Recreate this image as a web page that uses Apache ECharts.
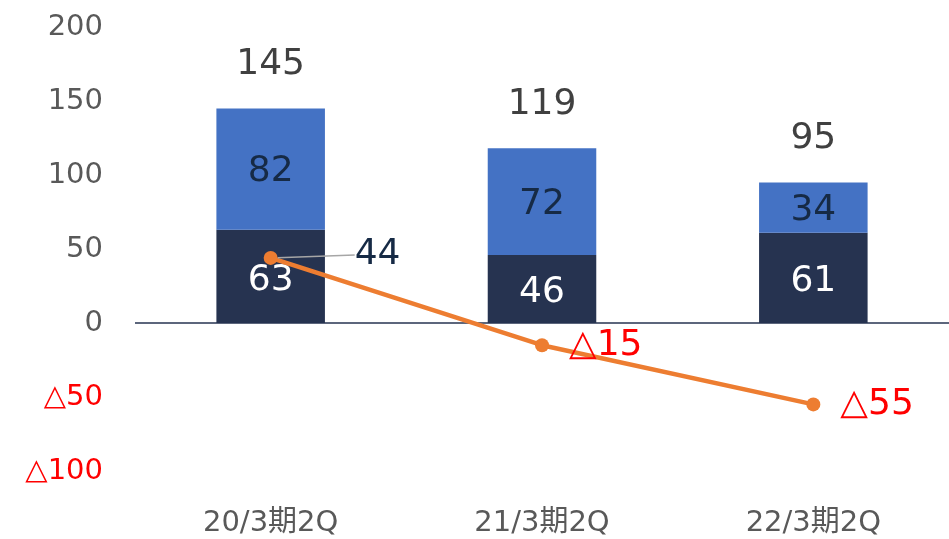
<!DOCTYPE html>
<html>
<head>
<meta charset="utf-8">
<script src="https://cdn.jsdelivr.net/npm/echarts@6/dist/echarts.min.js"></script>
<style>
  html, body { margin: 0; padding: 0; background: #fff; }
  #chart { width: 949px; height: 539px; }
</style>
</head>
<body>
<div id="chart"></div>
<script>
const categories = ['20/3期2Q', '21/3期2Q', '22/3期2Q']
const baseValues = [63, 46, 61]
const upperValues = [82, 72, 34]
const totals = [145, 119, 95]
const lineValues = [44, -15, -55]

const FONT = '"DejaVu Sans", Verdana, "Noto Sans CJK JP", sans-serif'

const fmt = (v) => (v < 0 ? '△' + Math.abs(v) : String(v))

const chart = echarts.init(document.getElementById('chart'))
chart.setOption({
  animation: false,
  grid: { left: 135, width: 818, top: 27, bottom: 68 },
  xAxis: {
    type: 'category',
    data: categories,
    position: 'bottom',
    axisLine: { show: false },
    axisTick: { show: false },
    axisLabel: {
      color: '#595959',
      fontSize: 29,
      fontFamily: FONT,
      margin: 38,
    },
  },
  yAxis: {
    type: 'value',
    min: -100,
    max: 200,
    interval: 50,
    splitLine: { show: false },
    axisLine: { show: false },
    axisTick: { show: false },
    axisLabel: {
      margin: 32,
      formatter: (v) => (v < 0 ? '{neg|' + fmt(v) + '}' : '{pos|' + v + '}'),
      rich: {
        pos: { color: '#595959', fontSize: 29, fontFamily: FONT },
        neg: { color: '#ff0000', fontSize: 29, fontFamily: FONT },
      },
    },
  },
  series: [
    {
      type: 'bar',
      stack: 'total',
      data: baseValues,
      barWidth: '40%',
      itemStyle: { color: '#263350' },
      label: {
        show: true,
        position: 'inside',
        color: '#ffffff',
        fontSize: 36,
        fontFamily: FONT,
        offset: [0, 4],
      },
      markLine: {
        silent: true,
        symbol: 'none',
        label: { show: false },
        lineStyle: { color: '#263350', width: 1.5, type: 'solid' },
        data: [{ yAxis: 0 }],
      },
    },
    {
      type: 'bar',
      stack: 'total',
      data: upperValues,
      barWidth: '40%',
      itemStyle: { color: '#4472c4' },
      label: {
        show: true,
        position: 'inside',
        color: '#162a45',
        fontSize: 36,
        fontFamily: FONT,
        offset: [0, 3],
      },
    },
    {
      type: 'bar',
      stack: 'total',
      data: totals.map(() => 0),
      barWidth: '40%',
      itemStyle: { color: 'transparent' },
      label: {
        show: true,
        position: 'top',
        distance: 26,
        color: '#404040',
        fontSize: 36,
        fontFamily: FONT,
        formatter: (p) => String(totals[p.dataIndex]),
      },
    },
    {
      type: 'line',
      data: lineValues.map((v, i) => ({
        value: v,
        label: { color: v < 0 ? '#ff0000' : '#162a45' },
        labelLine: { show: i === 0 },
      })),
      symbol: 'circle',
      symbolSize: 14,
      itemStyle: { color: '#ed7d31' },
      lineStyle: { color: '#ed7d31', width: 4.5 },
      z: 5,
      label: {
        show: true,
        position: 'right',
        distance: 20,
        fontSize: 36,
        fontFamily: FONT,
        formatter: (p) => fmt(p.value),
      },
      labelLine: {
        show: true,
        lineStyle: { color: '#a6a6a6', width: 1.5 },
      },
      labelLayout: (params) => {
        if (params.dataIndex === 0) {
          return { dx: 57, dy: -3 }
        }
        return {}
      },
    },
  ],
})
</script>
</body>
</html>
